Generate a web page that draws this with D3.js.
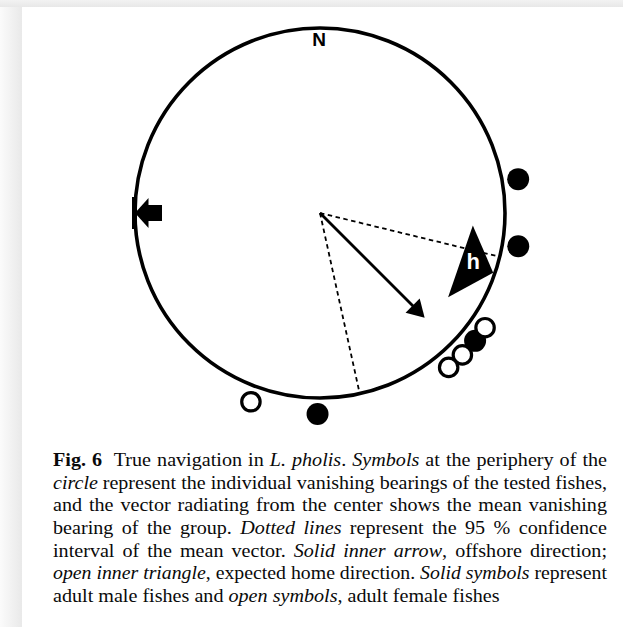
<!DOCTYPE html>
<html>
<head>
<meta charset="utf-8">
<script src="https://cdn.jsdelivr.net/npm/d3@7"></script>
<style>
  html, body { margin: 0; padding: 0; background: #ffffff; }
  svg { display: block; }
</style>
</head>
<body>
<script>
// ---------------- data ----------------
const maleBearings = [80.3, 99.5, 129.5, 180.7];      // solid symbols (deg)
const femaleBearings = [124.8, 134.9, 140.2, 200.1];  // open symbols (deg)
const meanBearing = 135;          // mean vector direction (deg)
const meanLength = 0.80;          // mean vector length (r)
const ciBearings = [103.7, 167.6]; // 95 % confidence interval limits
const homeBearing = 109;          // expected home direction
const offshoreBearing = 270;      // offshore direction
const northLabel = "N";
const homeLabel = "h";
const captionLines = [
  [["b", "Fig. 6"], ["n", "  True navigation in "], ["i", "L. pholis"], ["n", ". "], ["i", "Symbols"], ["n", " at the periphery of the"]],
  [["i", "circle"], ["n", " represent the individual vanishing bearings of the tested fishes,"]],
  [["n", "and the vector radiating from the center shows the mean vanishing"]],
  [["n", "bearing of the group. "], ["i", "Dotted lines"], ["n", " represent the 95 % confidence"]],
  [["n", "interval of the mean vector. "], ["i", "Solid inner arrow"], ["n", ", offshore direction;"]],
  [["i", "open inner triangle"], ["n", ", expected home direction. "], ["i", "Solid symbols"], ["n", " represent"]],
  [["n", "adult male fishes and "], ["i", "open symbols"], ["n", ", adult female fishes"]]
];

// ---------------- layout ----------------
const W = 623, H = 627;
const cx = 320, cy = 213, R = 185;

const svg = d3.select("body").append("svg").attr("width", W).attr("height", H);
const defs = svg.append("defs");
const gl = defs.append("linearGradient").attr("id", "shadeL").attr("x1", 0).attr("x2", 1).attr("y1", 0).attr("y2", 0);
gl.append("stop").attr("offset", 0).attr("stop-color", "#fbfbfb");
gl.append("stop").attr("offset", 1).attr("stop-color", "#e9e9e9");
const gt = defs.append("linearGradient").attr("id", "shadeT").attr("x1", 0).attr("x2", 0).attr("y1", 0).attr("y2", 1);
gt.append("stop").attr("offset", 0).attr("stop-color", "#f2f2f2");
gt.append("stop").attr("offset", 1).attr("stop-color", "#e8e8e8");

// page background with shadow
svg.append("rect").attr("x", 0).attr("y", 0).attr("width", W).attr("height", H).attr("fill", "#ffffff");
svg.append("rect").attr("x", 0).attr("y", 0).attr("width", 22).attr("height", H).attr("fill", "url(#shadeL)");
svg.append("rect").attr("x", 0).attr("y", 0).attr("width", W).attr("height", 7).attr("fill", "url(#shadeT)");
svg.append("rect").attr("x", 22).attr("y", 7).attr("width", W - 22).attr("height", H - 7).attr("fill", "#ffffff");

// scales
const angle = d3.scaleLinear().domain([0, 360]).range([0, 2 * Math.PI]);
const rad = d3.scaleLinear().domain([0, 1]).range([0, R]);
function pt(bearing, dist) {
  const a = angle(bearing);
  return [cx + dist * Math.sin(a), cy - dist * Math.cos(a)];
}
// local frame: d along radial, p perpendicular
function local(bearing, d, p) {
  const a = angle(bearing);
  const ux = Math.sin(a), uy = -Math.cos(a);
  const vx = Math.cos(a), vy = Math.sin(a);
  return [cx + d * ux + p * vx, cy + d * uy + p * vy];
}
const line = d3.line();

const g = svg.append("g");

// confidence interval dashed lines
g.selectAll("line.ci").data(ciBearings).join("line")
  .attr("class", "ci")
  .attr("x1", cx).attr("y1", cy)
  .attr("x2", d => pt(d, rad(1))[0]).attr("y2", d => pt(d, rad(1))[1])
  .attr("stroke", "#000").attr("stroke-width", 1.8).attr("stroke-dasharray", "4.5,3.5");

// main circle
g.append("circle").attr("cx", cx).attr("cy", cy).attr("r", rad(1))
  .attr("fill", "none").attr("stroke", "#000").attr("stroke-width", 3.6);

// North label
g.append("text").attr("x", cx - 1).attr("y", 46)
  .attr("text-anchor", "middle")
  .attr("font-family", "'Liberation Sans', Arial, sans-serif")
  .attr("font-weight", "bold").attr("font-size", 19)
  .text(northLabel);

// home triangle
const tri = [local(homeBearing, rad(0.99), 0), local(homeBearing, rad(0.803), -38), local(homeBearing, rad(0.803), 38)];
g.append("path").attr("d", line(tri) + "Z").attr("fill", "#000");
const hp = local(homeBearing - 1.5, rad(0.868), 0);
g.append("text").attr("x", hp[0]).attr("y", hp[1] + 8)
  .attr("text-anchor", "middle")
  .attr("font-family", "'Liberation Sans', Arial, sans-serif")
  .attr("font-weight", "bold").attr("font-size", 22)
  .attr("fill", "#fff")
  .text(homeLabel);

// offshore arrow
const bar = [local(offshoreBearing, 183, -16), local(offshoreBearing, 188, -16), local(offshoreBearing, 188, 16), local(offshoreBearing, 183, 16)];
g.append("path").attr("d", line(bar) + "Z").attr("fill", "#000");
const head = [local(offshoreBearing, 185, 0), local(offshoreBearing, 171.5, -15), local(offshoreBearing, 171.5, 15)];
g.append("path").attr("d", line(head) + "Z").attr("fill", "#000");
const shaft = [local(offshoreBearing, 172.5, -8), local(offshoreBearing, 158, -8), local(offshoreBearing, 158, 8), local(offshoreBearing, 172.5, 8)];
g.append("path").attr("d", line(shaft) + "Z").attr("fill", "#000");

// mean vector
const tip = rad(meanLength);
const shaftEnd = local(meanBearing, tip - 14, 0);
g.append("line").attr("x1", cx).attr("y1", cy).attr("x2", shaftEnd[0]).attr("y2", shaftEnd[1])
  .attr("stroke", "#000").attr("stroke-width", 2.8);
const mhead = [local(meanBearing, tip, 0), local(meanBearing, tip - 17, -10), local(meanBearing, tip - 17, 10)];
g.append("path").attr("d", line(mhead) + "Z").attr("fill", "#000");

// symbols
const symDist = 201;
g.selectAll("circle.male").data(maleBearings).join("circle")
  .attr("class", "male")
  .attr("cx", d => pt(d, symDist)[0]).attr("cy", d => pt(d, symDist)[1])
  .attr("r", 11).attr("fill", "#000");
g.selectAll("circle.female").data(femaleBearings).join("circle")
  .attr("class", "female")
  .attr("cx", d => pt(d, symDist)[0]).attr("cy", d => pt(d, symDist)[1])
  .attr("r", 9.2).attr("fill", "#fff").attr("stroke", "#000").attr("stroke-width", 3.2);

// caption
const capX = 53, capRight = 607, capY0 = 466, capDy = 22.65, capSx = 1.06;
const cap = svg.append("g")
  .attr("transform", `translate(${capX},0) scale(${capSx},1)`)
  .attr("font-family", "'Liberation Serif', 'Times New Roman', serif")
  .attr("font-size", 19).attr("fill", "#0a0a0a");
const target = (capRight - capX) / capSx;
captionLines.forEach((segs, i) => {
  const t = cap.append("text").attr("x", 0).attr("y", capY0 + i * capDy)
    .style("white-space", "pre");
  segs.forEach(([s, txt]) => {
    const ts = t.append("tspan").text(txt);
    if (s === "b") ts.attr("font-weight", "bold");
    if (s === "i") ts.attr("font-style", "italic");
  });
  if (i < captionLines.length - 1) {
    const natural = t.node().getComputedTextLength();
    const full = segs.map(s => s[1]).join("");
    const spaces = (full.match(/ /g) || []).length;
    const ws = (target - natural) / spaces;
    if (ws >= 0) {
      t.attr("word-spacing", ws);
    } else {
      t.attr("textLength", target).attr("lengthAdjust", "spacingAndGlyphs");
    }
  }
});
</script>
</body>
</html>
